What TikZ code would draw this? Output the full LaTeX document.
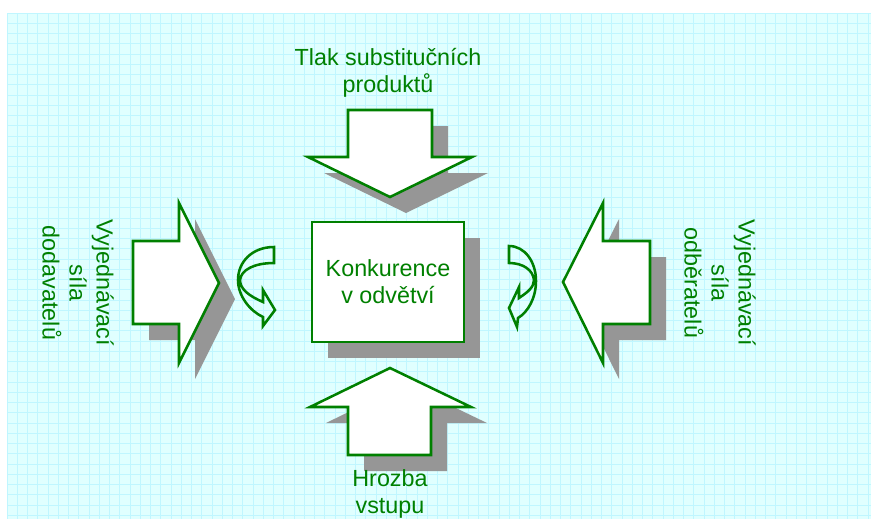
\documentclass[tikz,border=0pt]{standalone}
\usepackage{fontspec}
\setmainfont{Liberation Sans}
\usetikzlibrary{shadows}

\definecolor{forcegreen}{RGB}{0,128,0}
\definecolor{shadowgray}{RGB}{150,150,150}
\definecolor{paper}{RGB}{224,255,255}
\definecolor{paperline}{RGB}{192,246,255}

\begin{document}
\begin{tikzpicture}[x=0.75pt,y=-0.75pt,
		every node/.style={text=forcegreen,align=center,font=\fontsize{17.5}{20.25}\selectfont},
		block/.style={draw=forcegreen,line width=1.9pt,fill=white,line join=miter},
		shade/.style={fill=shadowgray,shift={(16,16)}},
		curlarrow/.style={draw=forcegreen,line width=1.9pt,line join=miter}]

			\useasboundingbox (0,0) rectangle (871,519);

			% squared paper
			\fill[paper] (7,13) rectangle (871,519);
			\foreach \gx in {0,...,84}
				\draw[paperline,line width=0.7pt] ({7+10.25*\gx},13) -- ({7+10.25*\gx},519);
			\foreach \gy in {0,...,49}
				\draw[paperline,line width=0.7pt] (7,{13+10.25*\gy}) -- (871,{13+10.25*\gy});

			% shadows of the big arrows
			\fill[shade] (348,110) -- (432,110) -- (432,157) -- (472,157) -- (390,197) -- (308,157) -- (348,157) -- cycle;
			\fill[shade] (390,368) -- (471,407) -- (431,407) -- (431,455) -- (348,455) -- (348,407) -- (310,407) -- cycle;
			\fill[shade] (133,241) -- (179,241) -- (179,203) -- (219,283) -- (179,363) -- (179,324) -- (133,324) -- cycle;
			\fill[shade] (650,241) -- (603,241) -- (603,203) -- (563,282) -- (603,363) -- (603,324) -- (650,324) -- cycle;

			% the big arrows
			\filldraw[block] (348,110) -- (432,110) -- (432,157) -- (472,157) -- (390,197) -- (308,157) -- (348,157) -- cycle;
			\filldraw[block] (390,368) -- (471,407) -- (431,407) -- (431,455) -- (348,455) -- (348,407) -- (310,407) -- cycle;
			\filldraw[block] (133,241) -- (179,241) -- (179,203) -- (219,283) -- (179,363) -- (179,324) -- (133,324) -- cycle;
			\filldraw[block] (650,241) -- (603,241) -- (603,203) -- (563,282) -- (603,363) -- (603,324) -- (650,324) -- cycle;

			% rivalry box
			\node[block,general shadow={fill=shadowgray,shadow xshift=12pt,shadow yshift=-12pt},
				minimum width=114pt,minimum height=90pt] (rivalry) at (388,282) {Konkurence\\v odvětví};

			% small curved arrows
			\draw[curlarrow] (274,247) .. controls (252,247) and (238,262) .. (238,280)
				.. controls (238,296) and (250,311) .. (263,317) -- (263,326) -- (275,310) -- (263,290) -- (263,302)
				.. controls (249,296) and (240,289) .. (240,280)
				.. controls (241,270) and (254,263) .. (274,263) -- cycle;
			\draw[curlarrow] (509,246) .. controls (525,246) and (536,262) .. (536,281)
				.. controls (536,298) and (528,312) .. (518,318) -- (517,327) -- (509,308) -- (519,287) -- (519,298)
				.. controls (528,292) and (534,287) .. (534,280)
				.. controls (533,270) and (523,263) .. (509,263) -- cycle;

			% forces
			\node (substitutes) at (388,73) {Tlak substitučních\\produktů};
			\node (entrants) at (390,494) {Hrozba\\vstupu};
			\node[rotate=-90] (suppliers) at (78,283) {Vyjednávací\\síla\\dodavatelů};
			\node[rotate=-90] (buyers) at (720,283) {Vyjednávací\\síla\\odběratelů};
		\end{tikzpicture}
\end{document}
